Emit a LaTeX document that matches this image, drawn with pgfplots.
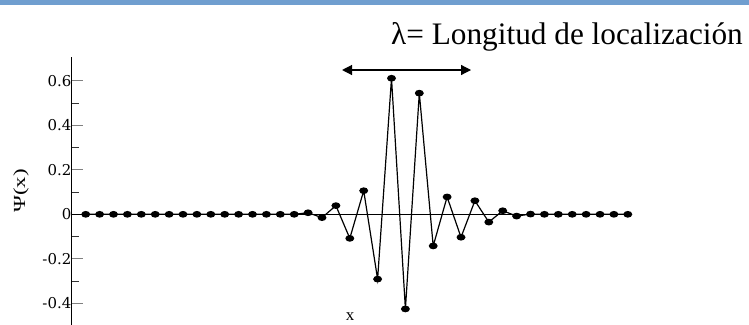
\documentclass[border=0pt]{standalone}
\usepackage{pgfplots}
\pgfplotsset{compat=1.18}
\usepackage{fontspec}
\setmainfont{Liberation Serif}
\newfontfamily\tickfont{DejaVu Serif}
\usetikzlibrary{arrows.meta}
\definecolor{barblue}{RGB}{112,158,207}

% Wave function amplitude on a 40-site chain
\pgfplotstableread{
i  psi
0  0
1  0
2  0
3  0
4  0
5  0
6  0
7  0
8  0
9  0
10 0
11 0
12 0
13 0
14 0
15 0
16 0.007
17 -0.015
18 0.039
19 -0.108
20 0.106
21 -0.291
22 0.611
23 -0.425
24 0.544
25 -0.142
26 0.078
27 -0.103
28 0.061
29 -0.035
30 0.016
31 -0.008
32 0.001
33 0
34 0
35 0
36 0
37 0
38 0
39 0
}\wavefn

\begin{document}
\begin{tikzpicture}[x=1bp,y=1bp]
\useasboundingbox (0,0) rectangle (749,-324);
\clip (0,0) rectangle (749,-324);
\fill[barblue] (0,0) rectangle (749,-5);

\node[anchor=base west, inner sep=0pt, font=\fontsize{31.4}{32}\selectfont]
  at (391,-44.3) {λ= Longitud de localización};
\node[rotate=90, inner sep=0pt, font=\fontsize{17}{17}\selectfont]
  at (21,-191) {\scalebox{1.35}[1]{Ψ(x)}};
\node[anchor=south, inner sep=0pt, font=\fontsize{17}{17}\selectfont]
  at (350,-321) {x};

\begin{axis}[
  at={(71.8bp,-330.1bp)}, anchor=south west,
  scale only axis, width=569.9bp, height=272.8bp,
  xmin=-1, xmax=40, ymin=-0.52, ymax=0.705,
  clip=false,
  axis x line=none, axis y line*=left,
  axis line style={black, line width=1.3bp},
  ytick={-0.4,-0.2,0,0.2,0.4,0.6},
  yticklabels={-0.4,-0.2,0,0.2,0.4,0.6},
  minor ytick={-0.5,-0.3,-0.1,0.1,0.3,0.5},
  tick align=inside,
  major tick length=11bp, minor tick length=7bp,
  major tick style={gray, line width=1.2bp},
  minor tick style={black!80, line width=0.9bp},
  yticklabel style={font=\tickfont\fontsize{15}{15}\selectfont, anchor=east, xshift=3bp},
]
  \draw[black, line width=1bp] (axis cs:-1,0) -- (axis cs:39,0);
  \addplot[black, line width=1.2bp, mark=*, mark size=3.8bp,
    mark options={yscale=0.72, fill=black}] table[x=i, y=psi] {\wavefn};
  \draw[{Triangle[length=10bp,width=10bp]}-{Triangle[length=10bp,width=10bp]}, line width=1.2bp]
    (axis cs:18.44,0.648) -- (axis cs:27.72,0.648);
\end{axis}
\end{tikzpicture}
\end{document}
